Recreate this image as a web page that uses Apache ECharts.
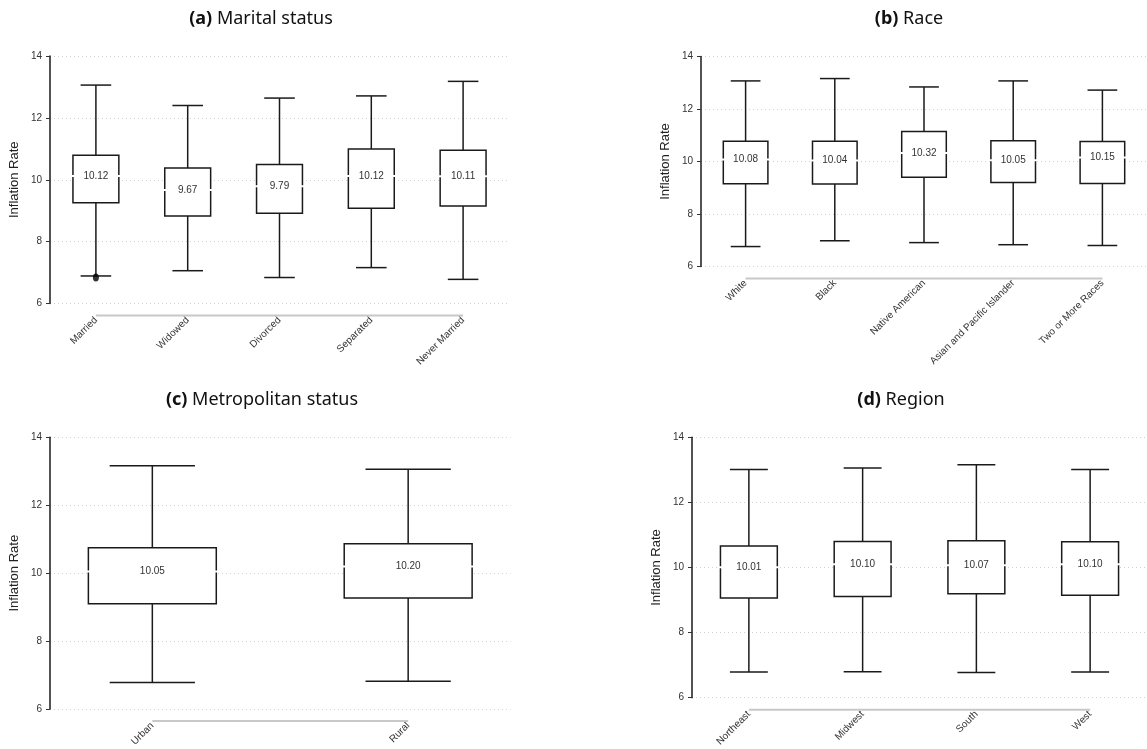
<!DOCTYPE html>
<html>
<head>
<meta charset="utf-8">
<script src="https://cdn.jsdelivr.net/npm/echarts@6/dist/echarts.min.js"></script>
<style>
html,body{margin:0;padding:0;background:#fff;}
#chart{width:1147px;height:749px;}
</style>
</head>
<body>
<div id="chart"></div>
<script>
// ---------- DATA ----------
// (a) Marital status
const maritalCats = ['Married', 'Widowed', 'Divorced', 'Separated', 'Never Married'];
const maritalLow  = [6.89, 7.06, 6.84, 7.16, 6.78];
const maritalQ1   = [9.26, 8.83, 8.92, 9.08, 9.15];
const maritalMed  = [10.12, 9.67, 9.79, 10.12, 10.11];
const maritalQ3   = [10.79, 10.38, 10.49, 10.99, 10.95];
const maritalHigh = [13.06, 12.40, 12.64, 12.71, 13.18];
const maritalOutliers = [[0, 6.84]];

// (b) Race
const raceCats = ['White', 'Black', 'Native American', 'Asian and Pacific Islander', 'Two or More Races'];
const raceLow  = [6.76, 6.98, 6.91, 6.83, 6.80];
const raceQ1   = [9.15, 9.14, 9.40, 9.20, 9.16];
const raceMed  = [10.08, 10.04, 10.32, 10.05, 10.15];
const raceQ3   = [10.77, 10.77, 11.14, 10.79, 10.76];
const raceHigh = [13.07, 13.16, 12.84, 13.07, 12.72];

// (c) Metropolitan status
const metroCats = ['Urban', 'Rural'];
const metroLow  = [6.78, 6.82];
const metroQ1   = [9.10, 9.27];
const metroMed  = [10.05, 10.20];
const metroQ3   = [10.75, 10.87];
const metroHigh = [13.16, 13.06];

// (d) Region
const regionCats = ['Northeast', 'Midwest', 'South', 'West'];
const regionLow  = [6.79, 6.80, 6.77, 6.79];
const regionQ1   = [9.06, 9.11, 9.19, 9.15];
const regionMed  = [10.01, 10.10, 10.07, 10.10];
const regionQ3   = [10.66, 10.80, 10.82, 10.79];
const regionHigh = [13.01, 13.06, 13.16, 13.01];

const yTicks = [6, 8, 10, 12, 14];
const yName = 'Inflation Rate';

// ---------- BUILD ----------
const panels = [
  {title: '(a)', sub: 'Marital status', cats: maritalCats, low: maritalLow, q1: maritalQ1, med: maritalMed, q3: maritalQ3, high: maritalHigh,
   grid: {left: 50, top: 56, width: 459, height: 247.5}, pad: 0.5, tx: 256, ty: 5},
  {title: '(b)', sub: 'Race', cats: raceCats, low: raceLow, q1: raceQ1, med: raceMed, q3: raceQ3, high: raceHigh,
   grid: {left: 701, top: 56.5, width: 462, height: 210}, pad: 0.5, tx: 904, ty: 5},
  {title: '(c)', sub: 'Metropolitan status', cats: metroCats, low: metroLow, q1: metroQ1, med: metroMed, q3: metroQ3, high: metroHigh,
   grid: {left: 50, top: 437.3, width: 460.5, height: 273.4}, pad: 0.4, tx: 257, ty: 386},
  {title: '(d)', sub: 'Region', cats: regionCats, low: regionLow, q1: regionQ1, med: regionMed, q3: regionQ3, high: regionHigh,
   grid: {left: 692, top: 437.3, width: 464, height: 262}, pad: 0.5, tx: 896, ty: 386}
];

const option = {
  animation: false,
  backgroundColor: '#fff',
  textStyle: {fontFamily: 'Liberation Sans, Arial, sans-serif'},
  title: [], grid: [], xAxis: [], yAxis: [], series: []
};

function makeRender(n) {
  return function (params, api) {
    const xi = api.value(0);
    const pLow = api.coord([xi, api.value(1)]);
    const pQ1 = api.coord([xi, api.value(2)]);
    const pMed = api.coord([xi, api.value(3)]);
    const pQ3 = api.coord([xi, api.value(4)]);
    const pHigh = api.coord([xi, api.value(5)]);
    const bw = api.size([0.5, 0])[0];
    const cw = api.size([1 / 3, 0])[0];
    const cx = pMed[0];
    const stroke = {stroke: '#1a1a1a', lineWidth: 1.5};
    const children = [];
    if (params.dataIndex === 0) {
      const a = api.coord([0, 6]);
      const b = api.coord([n - 1, 6]);
      children.push({type: 'line', shape: {x1: a[0], y1: a[1] + 12, x2: b[0], y2: b[1] + 12},
        style: {stroke: '#c8c8c8', lineWidth: 2}});
    }
    children.push(
      {type: 'line', shape: {x1: cx, y1: pHigh[1], x2: cx, y2: pQ3[1]}, style: stroke},
      {type: 'line', shape: {x1: cx, y1: pQ1[1], x2: cx, y2: pLow[1]}, style: stroke},
      {type: 'line', shape: {x1: cx - cw / 2, y1: pHigh[1], x2: cx + cw / 2, y2: pHigh[1]}, style: stroke},
      {type: 'line', shape: {x1: cx - cw / 2, y1: pLow[1], x2: cx + cw / 2, y2: pLow[1]}, style: stroke},
      {type: 'rect', shape: {x: cx - bw / 2, y: pQ3[1], width: bw, height: pQ1[1] - pQ3[1]},
        style: {fill: '#fff', stroke: '#1a1a1a', lineWidth: 1.5}},
      {type: 'line', shape: {x1: cx - bw / 2 - 1.5, y1: pMed[1], x2: cx + bw / 2 + 1.5, y2: pMed[1]},
        style: {stroke: '#fff', lineWidth: 2}},
      {type: 'text', x: cx, y: pMed[1],
        style: {text: api.value(3).toFixed(2), fill: '#333', fontSize: 10,
          fontFamily: 'Liberation Sans, Arial, sans-serif', align: 'center', verticalAlign: 'middle'}}
    );
    return {type: 'group', children: children};
  };
}

panels.forEach(function (p, k) {
  const n = p.cats.length;
  option.title.push({
    text: '{b|' + p.title + '} ' + p.sub,
    left: p.tx, top: p.ty, textAlign: 'center',
    textStyle: {fontFamily: 'Noto Sans', fontSize: 18, fontWeight: 'normal', color: '#111',
      rich: {b: {fontFamily: 'Noto Sans', fontSize: 18, fontWeight: 'bold', color: '#111'}}}
  });
  option.grid.push(p.grid);
  option.xAxis.push({
    type: 'value', gridIndex: k, min: -p.pad, max: n - 1 + p.pad,
    axisLine: {show: false, onZero: false}, axisTick: {show: false}, splitLine: {show: false},
    axisLabel: {
      customValues: p.cats.map(function (c, i) { return i; }),
      formatter: function (v) { return p.cats[Math.round(v)]; },
      rotate: 45, fontSize: 10, color: '#333', margin: 15,
      fontFamily: 'Liberation Sans, Arial, sans-serif'
    }
  });
  option.yAxis.push({
    type: 'value', gridIndex: k, min: yTicks[0], max: yTicks[yTicks.length - 1], interval: 2,
    name: yName, nameLocation: 'middle', nameGap: 29,
    nameTextStyle: {fontSize: 13, color: '#222', fontFamily: 'Liberation Sans, Arial, sans-serif'},
    axisLine: {show: true, onZero: false, lineStyle: {color: '#1a1a1a', width: 1.5}},
    axisTick: {show: true, length: 4, lineStyle: {color: '#333'}},
    axisLabel: {fontSize: 10, color: '#333', margin: 8, fontFamily: 'Liberation Sans, Arial, sans-serif'},
    splitLine: {show: true, lineStyle: {color: '#d0d0d0', type: [1, 3], width: 1}}
  });
  option.series.push({
    type: 'custom', xAxisIndex: k, yAxisIndex: k, clip: false,
    renderItem: makeRender(n),
    encode: {x: 0, y: [1, 2, 3, 4, 5]},
    data: p.cats.map(function (c, i) { return [i, p.low[i], p.q1[i], p.med[i], p.q3[i], p.high[i]]; })
  });
});

option.series.push({
  type: 'scatter', xAxisIndex: 0, yAxisIndex: 0, symbol: 'circle', symbolSize: [6, 8],
  itemStyle: {color: '#000'}, data: maritalOutliers, z: 5
});

const chart = echarts.init(document.getElementById('chart'));
chart.setOption(option);
</script>
</body>
</html>
